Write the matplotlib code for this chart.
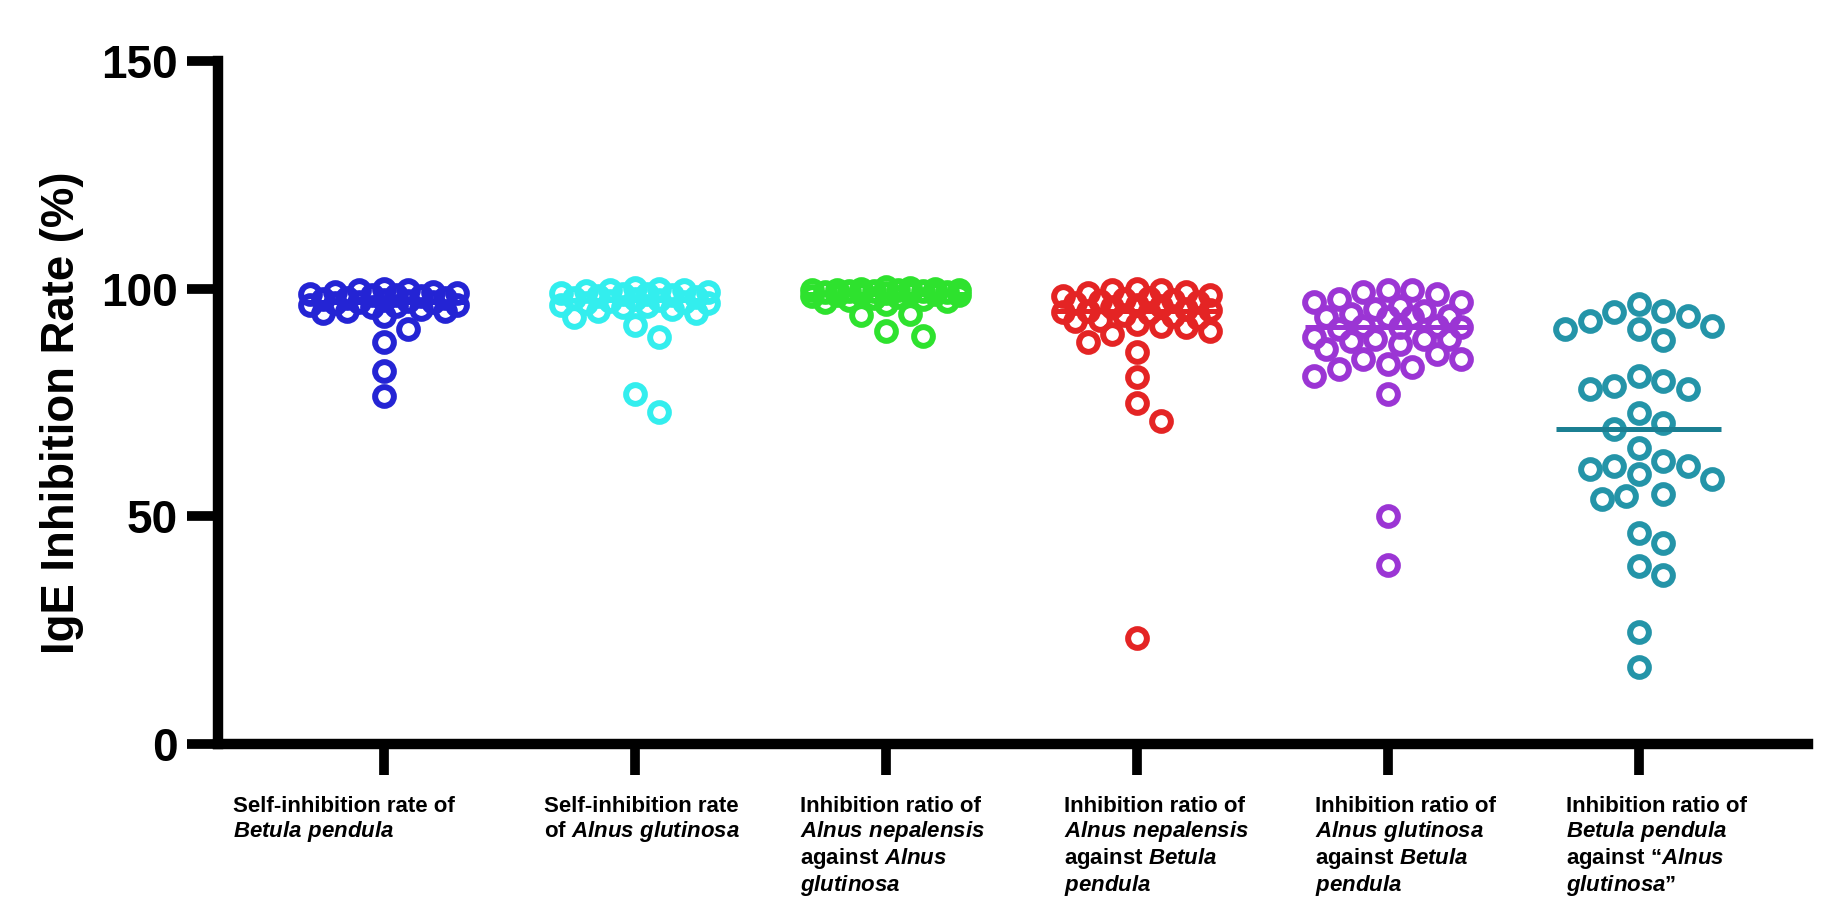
import numpy as np
import matplotlib
matplotlib.use('Agg')
import matplotlib.pyplot as plt
from matplotlib.transforms import blended_transform_factory

plt.rcParams['font.family'] = 'Liberation Sans'
plt.rcParams['font.weight'] = 'bold'
plt.rcParams['mathtext.fontset'] = 'custom'
plt.rcParams['mathtext.rm'] = 'Liberation Sans:bold'
plt.rcParams['mathtext.it'] = 'Liberation Sans:italic:bold'
plt.rcParams['mathtext.bf'] = 'Liberation Sans:bold'

# IgE inhibition (%) per serum, one list per assay
betula_self = [100.0, 99.8, 99.7, 99.3, 99.2, 99.0, 98.9, 98.6, 98.5, 98.4, 98.0,
               97.9, 97.7, 97.5, 97.4, 97.1, 97.0, 96.8, 96.5, 96.4, 96.1, 95.9,
               95.5, 95.2, 95.0, 94.6, 94.1, 91.2, 88.3, 82.0, 76.4]
alnus_self = [100.2, 99.9, 99.8, 99.6, 99.5, 99.3, 99.1, 98.9, 98.8, 98.6, 98.3,
              98.1, 97.9, 97.8, 97.5, 97.4, 97.1, 96.9, 96.8, 96.5, 96.3, 96.0,
              95.6, 95.2, 94.6, 93.8, 92.0, 89.4, 76.8, 72.9]
nepal_vs_alnus = [100.3, 100.1, 100.0, 99.9, 99.8, 99.8, 99.7, 99.6, 99.5, 99.5,
                  99.4, 99.3, 99.2, 99.1, 99.0, 98.9, 98.8, 98.7, 98.5, 98.4, 98.2,
                  98.0, 97.8, 97.6, 97.3, 97.0, 96.6, 94.4, 94.3, 90.7, 89.6]
nepal_vs_betula = [99.9, 99.6, 99.6, 99.2, 99.0, 98.5, 98.3, 98.0, 97.7, 97.5, 97.2,
                   97.0, 96.8, 96.5, 96.2, 96.0, 95.6, 95.3, 95.2, 94.9, 94.6, 94.3,
                   94.0, 93.6, 93.2, 92.8, 92.2, 91.9, 91.5, 90.7, 90.0, 88.2, 86.0,
                   80.5, 74.9, 70.9, 23.2]
alnus_vs_betula = [99.7, 99.6, 99.2, 98.8, 97.7, 97.0, 97.0, 96.3, 95.5, 95.2, 94.4,
                   94.1, 93.7, 93.7, 93.7, 91.9, 91.9, 91.5, 91.5, 91.1, 89.3, 88.9,
                   88.9, 88.9, 88.5, 87.8, 86.7, 85.6, 84.5, 84.5, 83.4, 82.7, 82.3,
                   80.8, 76.8, 50.0, 39.4]
betula_vs_alnus = [96.6, 95.2, 94.8, 94.0, 92.9, 91.8, 91.1, 91.1, 88.7, 80.8, 79.7,
                   78.6, 77.9, 77.9, 72.8, 70.5, 69.1, 65.0, 62.1, 61.0, 61.0, 60.3,
                   59.2, 58.1, 54.8, 54.4, 53.7, 46.3, 44.1, 39.0, 37.2, 24.7, 17.0]

groups = [betula_self, alnus_self, nepal_vs_alnus,
          nepal_vs_betula, alnus_vs_betula, betula_vs_alnus]
colors = ['#2424d4', '#33eeee', '#2ee22e', '#e42424', '#9b35d4', '#2494a8']
line_colors = ['#2424d4', '#33eeee', '#2ee22e', '#e42424', '#9b35d4', '#1b7f92']

labels = [
    'Self-inhibition rate of\n$\\mathit{Betula\\ pendula}$',
    'Self-inhibition rate\nof $\\mathit{Alnus\\ glutinosa}$',
    'Inhibition ratio of\n$\\mathit{Alnus\\ nepalensis}$\nagainst $\\mathit{Alnus}$\n$\\mathit{glutinosa}$',
    'Inhibition ratio of\n$\\mathit{Alnus\\ nepalensis}$\nagainst $\\mathit{Betula}$\n$\\mathit{pendula}$',
    'Inhibition ratio of\n$\\mathit{Alnus\\ glutinosa}$\nagainst $\\mathit{Betula}$\n$\\mathit{pendula}$',
    'Inhibition ratio of\n$\\mathit{Betula\\ pendula}$\nagainst $\\mathit{“Alnus}$\n$\\mathit{glutinosa”}$',
]
label_shift = [-0.60, -0.36, -0.34, -0.29, -0.29, -0.29]

W, H = 1832, 900
fig = plt.figure(figsize=(W / 100, H / 100), dpi=100)
ax = fig.add_axes([218 / W, 1 - 744 / H, (1808 - 218) / W, (744 - 61) / H])
ax.set_xlim(-0.661, 5.675)
ax.set_ylim(0, 150)

for s in ['top', 'right']:
    ax.spines[s].set_visible(False)
for s in ['left', 'bottom']:
    ax.spines[s].set_linewidth(7.5)
ax.tick_params(axis='both', width=7.0, length=22, direction='out')
ax.tick_params(axis='y', labelsize=33, pad=7)
ax.set_yticks([0, 50, 100, 150])
ax.set_xticks(range(len(groups)))
ax.set_xticklabels([])
for t in ax.get_yticklabels():
    t.set_fontweight('bold')


def swarm(values, d=24.5, step=12.25, max_off=84.0):
    """Beeswarm x offsets (pixels) for values in display units."""
    cands = [0.0]
    k = 1
    while k * step <= max_off + 1e-9:
        cands += [k * step, -k * step]
        k += 1
    py = ax.transData.transform(np.column_stack([np.zeros(len(values)), values]))[:, 1]
    order = np.argsort(-np.asarray(values))
    placed_x, placed_y = [], []
    offs = np.zeros(len(values))
    for i in order:
        best, best_d = 0.0, -1.0
        for c in cands:
            if placed_x:
                dist = np.min(np.hypot(np.array(placed_x) - c, np.array(placed_y) - py[i]))
            else:
                dist = np.inf
            if dist >= d:
                best = c
                break
            if dist > best_d:
                best, best_d = c, dist
        offs[i] = best
        placed_x.append(best)
        placed_y.append(py[i])
    return offs


x_unit = ax.transData.transform((1, 0))[0] - ax.transData.transform((0, 0))[0]
for i, vals in enumerate(groups):
    offs = swarm(vals) / x_unit
    ax.plot(i + offs, vals, 'o', ms=13.5, mfc='none', mec=colors[i], mew=4.3,
            linestyle='none', clip_on=False, zorder=3)
    ax.hlines(np.median(vals), i - 0.33, i + 0.33, color=line_colors[i], lw=3.6, zorder=4)

trans = blended_transform_factory(ax.transData, fig.transFigure)
for i, lab in enumerate(labels):
    ax.text(i + label_shift[i], 1 - 796 / H, lab, transform=trans, ha='left', va='top',
            fontsize=16, fontweight='bold', linespacing=1.12)

fig.text(62 / W, 1 - 413 / H, 'IgE Inhibition Rate (%)', rotation=90, ha='center',
         va='center', fontsize=32.8, fontweight='bold')

fig.savefig('out.png', dpi=100)
